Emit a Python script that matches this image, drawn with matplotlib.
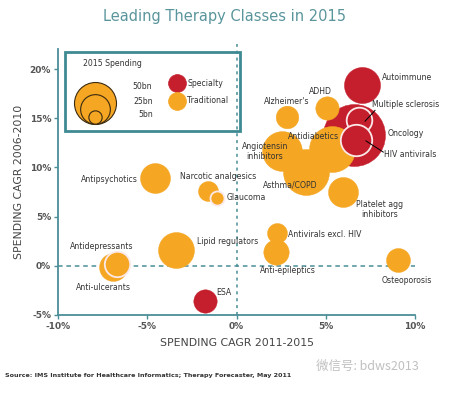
import matplotlib.pyplot as plt
import numpy as np
from matplotlib.patches import Rectangle

# 2015 therapy classes: spending CAGR 2011-2015 (x), CAGR 2006-2010 (y), 2015 spending in $bn
names = ["Oncology", "Angiotensin\ninhibitors", "Antidiabetics", "Asthma/COPD",
         "Alzheimer's", "ADHD", "Platelet agg\ninhibitors", "Antivirals excl. HIV",
         "Anti-epileptics", "Osteoporosis", "Antipsychotics", "Narcotic analgesics",
         "Glaucoma", "Lipid regulators", "Anti-ulcerants", "Antidepressants",
         "Autoimmune", "Multiple sclerosis", "HIV antivirals", "ESA"]
cagr_11_15 = [6.6, 2.55, 5.35, 3.9, 2.85, 5.05, 5.95, 2.25, 2.2, 9.05,
              -4.55, -1.6, -1.1, -3.4, -6.9, -6.7, 7.05, 6.85, 6.7, -1.77]
cagr_06_10 = [13.3, 11.7, 11.9, 9.5, 15.1, 16.0, 7.55, 3.3, 1.4, 0.6,
              8.9, 7.65, 6.9, 1.6, -0.1, 0.2, 18.4, 14.8, 12.8, -3.6]
spend_bn = [109, 45, 60, 60, 14.5, 15.5, 25.5, 11.3, 18.3, 16.3,
            25.5, 11.3, 5.6, 36.7, 22, 18.3, 37, 18.6, 28, 15.5]
kind = ["Specialty", "Traditional", "Traditional", "Traditional", "Traditional",
        "Traditional", "Traditional", "Traditional", "Traditional", "Traditional",
        "Traditional", "Traditional", "Traditional", "Traditional", "Traditional",
        "Traditional", "Specialty", "Specialty", "Specialty", "Specialty"]
legend_bn = [50, 25, 5]

COLORS = {"Specialty": "#C51F2E", "Traditional": "#F5A623"}
WHITE_EDGE = {"Multiple sclerosis", "HIV antivirals", "Glaucoma", "Antidepressants"}
TEAL = "#4A8E97"
TXT = "#333333"

# label placement (data coords, ha)
LABELS = {
    "Autoimmune": (8.15, 19.1, "left"), "ADHD": (4.68, 17.7, "center"),
    "Alzheimer's": (2.81, 16.7, "center"), "Multiple sclerosis": (7.57, 16.4, "left"),
    "Oncology": (8.49, 13.5, "left"), "HIV antivirals": (8.26, 11.3, "left"),
    "Antidiabetics": (4.29, 13.1, "center"), "Angiotensin\ninhibitors": (1.6, 11.6, "center"),
    "Asthma/COPD": (3.0, 8.23, "center"), "Platelet agg\ninhibitors": (8.04, 5.74, "center"),
    "Antivirals excl. HIV": (2.9, 3.23, "left"), "Anti-epileptics": (2.9, -0.51, "center"),
    "Osteoporosis": (9.54, -1.46, "center"), "Antipsychotics": (-7.13, 8.74, "center"),
    "Narcotic analgesics": (-3.17, 9.11, "left"), "Glaucoma": (-0.55, 6.91, "left"),
    "Lipid regulators": (-2.23, 2.48, "left"), "Antidepressants": (-7.55, 1.94, "center"),
    "Anti-ulcerants": (-7.46, -2.21, "center"), "ESA": (-1.11, -2.72, "left"),
}

DPI = 100
PX_PER_SQRT_BN = 21 / np.sqrt(50)   # bubble radius in px


def size_pt2(bn):
    r_px = PX_PER_SQRT_BN * np.sqrt(np.asarray(bn, dtype=float))
    return (2 * r_px * 72 / DPI) ** 2


fig = plt.figure(figsize=(4.59, 3.93), dpi=DPI)
ax = fig.add_axes([0.1264, 0.1985, 0.7778, 0.6758])
ax.set_xlim(-10, 10)
ax.set_ylim(-5, 22)

ax.axhline(0, color=TEAL, ls=(0, (3, 2.5)), lw=1.1, zorder=1)
ax.axvline(0, color=TEAL, ls=(0, (2, 2.5)), lw=1.1, ymax=1.02, clip_on=False, zorder=1)

order = ["Oncology"] + [n for n in names if n != "Oncology"]
for n in order:
    i = names.index(n)
    if n in WHITE_EDGE:
        ec, lw = "#FBE9E9", 1.3
    else:
        ec, lw = COLORS[kind[i]], 0.3
    ax.scatter(cagr_11_15[i], cagr_06_10[i], s=size_pt2(spend_bn[i]),
               color=COLORS[kind[i]], edgecolor=ec, linewidth=lw, zorder=3, clip_on=False)

for n, (lx, ly, ha) in LABELS.items():
    ax.text(lx, ly, n, fontsize=5.6, color=TXT, ha=ha, va="center",
            linespacing=1.1, zorder=5)

ax.plot([7.76, 7.2], [15.8, 14.7], color="black", lw=0.7, zorder=4)
ax.plot([8.22, 7.25], [11.56, 12.7], color="black", lw=0.7, zorder=4)

for s in ["top", "right"]:
    ax.spines[s].set_visible(False)
for s in ["left", "bottom"]:
    ax.spines[s].set_color(TEAL)
    ax.spines[s].set_linewidth(1.3)
ax.set_xticks([-10, -5, 0, 5, 10])
ax.set_yticks([-5, 0, 5, 10, 15, 20])
ax.set_xticklabels([f"{v}%" for v in [-10, -5, 0, 5, 10]])
ax.set_yticklabels([f"{v}%" for v in [-5, 0, 5, 10, 15, 20]])
ax.tick_params(colors=TEAL, labelcolor="#555555", labelsize=6.5, length=3, width=1, pad=2)
for t in ax.get_xticklabels() + ax.get_yticklabels():
    t.set_fontweight("bold")
ax.set_xlabel("SPENDING CAGR 2011-2015", fontsize=7.8, color="#444444", labelpad=5)
ax.set_ylabel("SPENDING CAGR 2006-2010", fontsize=7.8, color="#444444", labelpad=4)

fig.text(0.49, 1 - 16 / 393, "Leading Therapy Classes in 2015", fontsize=10.5,
         color="#5A959C", ha="center", va="center")

# legend box, drawn in its own pixel-scaled axes
L, T, W, H = 65, 52, 175, 79
lax = fig.add_axes([L / 459, 1 - (T + H) / 393, W / 459, H / 393])
lax.set_xlim(0, W)
lax.set_ylim(H, 0)
lax.axis("off")
lax.add_patch(Rectangle((0, 0), W, H, fill=False, ec="#3E8A93", lw=2, clip_on=False))
lax.text(18, 12, "2015 Spending", fontsize=5.6, color=TXT, va="center")
bottom = 72
for bn in legend_bn:
    r = PX_PER_SQRT_BN * np.sqrt(bn)
    lax.scatter(30, bottom - r, s=size_pt2(bn), color=COLORS["Traditional"],
                edgecolor="#3A2A10", linewidth=0.8, clip_on=False)
for bn, ly, lx in zip(legend_bn, [34.7, 49.7, 63], [67, 68, 73]):
    lax.text(lx, ly, f"{bn}bn", fontsize=5.6, color=TXT, va="center")
for k, ly in zip(["Specialty", "Traditional"], [31.3, 48.7]):
    lax.scatter(112, ly, s=size_pt2(9), color=COLORS[k], edgecolor=COLORS[k], linewidth=0.5)
    lax.text(122, ly, k, fontsize=5.6, color=TXT, va="center")

fig.text(5 / 459, 1 - 376 / 393,
         "Source: IMS Institute for Healthcare Informatics; Therapy Forecaster, May 2011",
         fontsize=4.6, color=TXT, fontweight="bold", va="center")
fig.text(316 / 459, 1 - 366 / 393, "微信号: bdws2013", fontsize=9, color="#C0C0C0",
         va="center", family=["Noto Sans CJK SC", "DejaVu Sans"])

fig.savefig("out.png", dpi=DPI)
